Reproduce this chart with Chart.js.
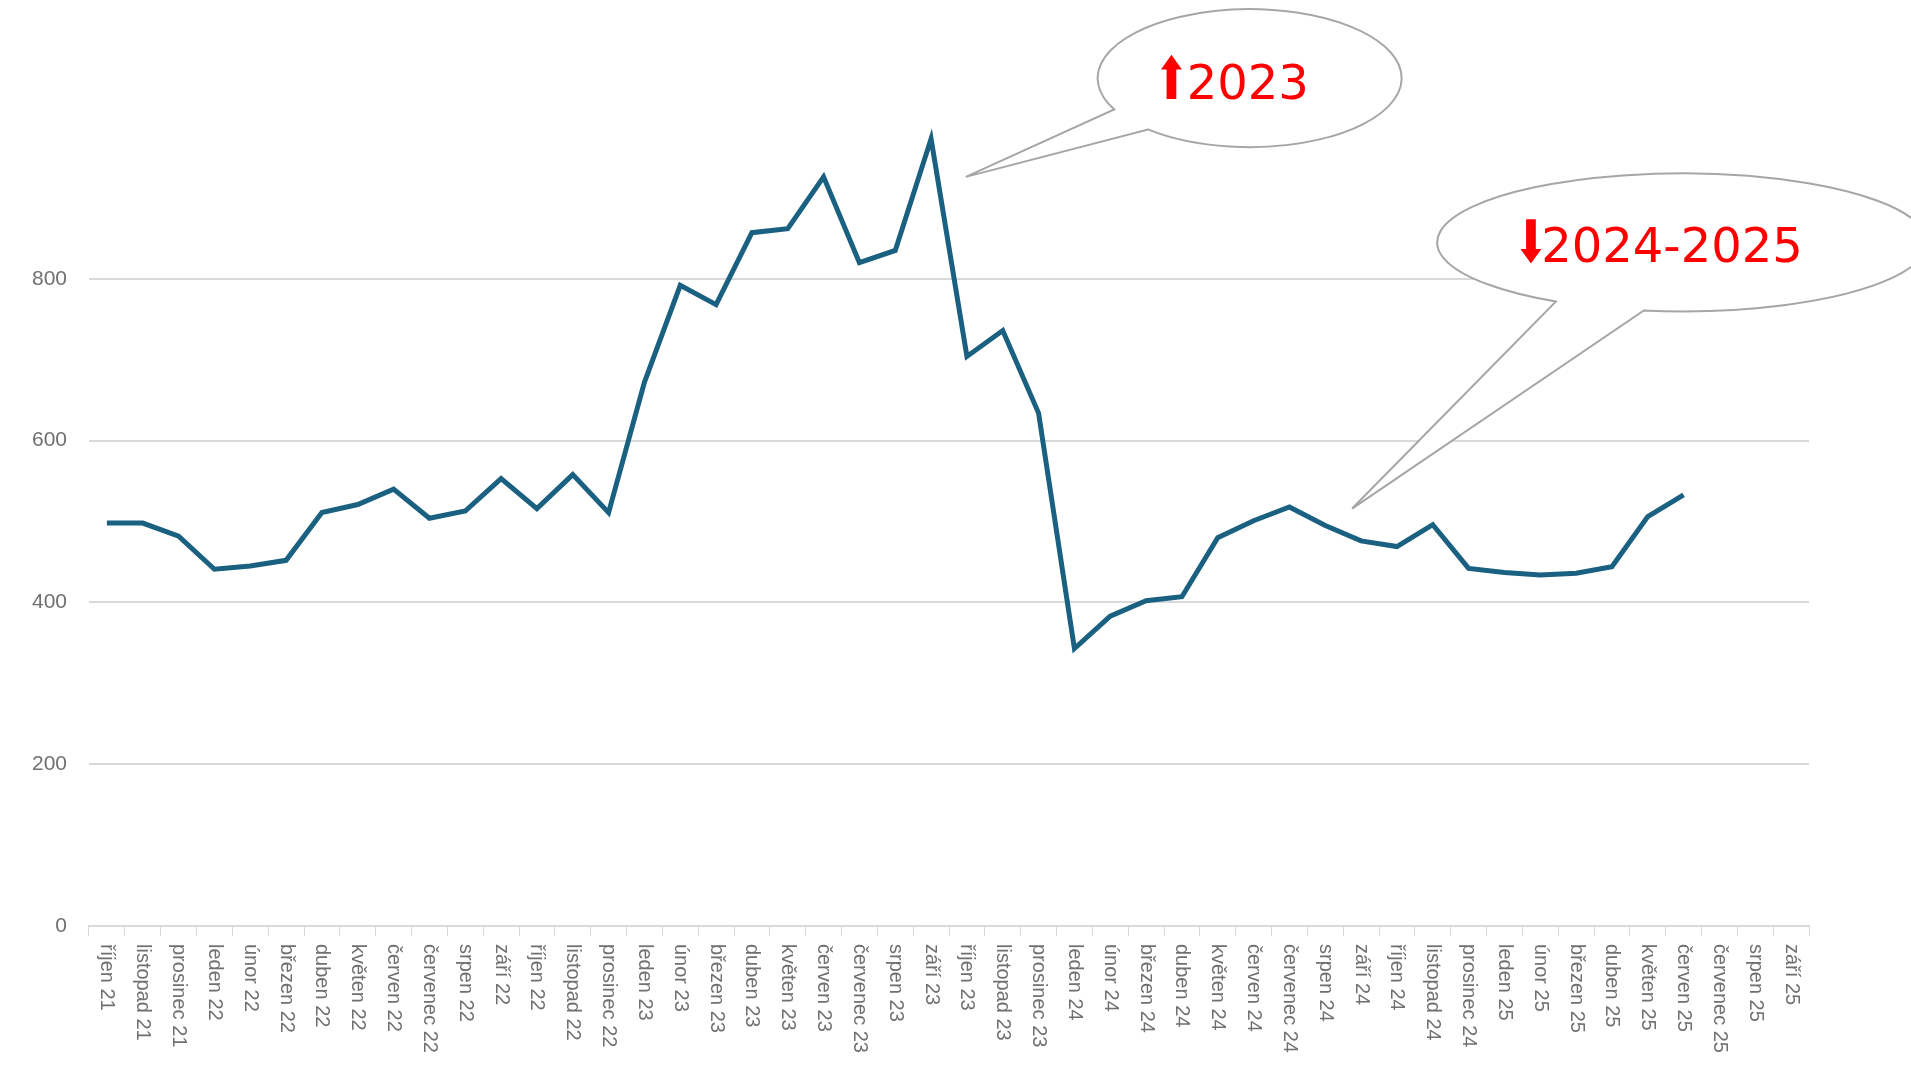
<!DOCTYPE html>
<html>
<head>
<meta charset="utf-8">
<script src="https://cdn.jsdelivr.net/npm/chart.js@4.4.1/dist/chart.umd.min.js"></script>
<style>
  html, body { margin: 0; padding: 0; background: #fff; }
  canvas { display: block; }
</style>
</head>
<body>
<canvas id="myChart" width="1911" height="1066"></canvas>
<script>
const months = ['říjen 21', 'listopad 21', 'prosinec 21',
  'leden 22', 'únor 22', 'březen 22', 'duben 22', 'květen 22', 'červen 22',
  'červenec 22', 'srpen 22', 'září 22', 'říjen 22', 'listopad 22', 'prosinec 22',
  'leden 23', 'únor 23', 'březen 23', 'duben 23', 'květen 23', 'červen 23',
  'červenec 23', 'srpen 23', 'září 23', 'říjen 23', 'listopad 23', 'prosinec 23',
  'leden 24', 'únor 24', 'březen 24', 'duben 24', 'květen 24', 'červen 24',
  'červenec 24', 'srpen 24', 'září 24', 'říjen 24', 'listopad 24', 'prosinec 24',
  'leden 25', 'únor 25', 'březen 25', 'duben 25', 'květen 25', 'červen 25',
  'červenec 25', 'srpen 25', 'září 25'];

const values = [498, 498, 482,
  441, 445, 452, 511, 521, 540, 504, 513, 553, 516, 558, 511,
  672, 792, 768, 857, 862, 926, 820, 835, 973, 704, 736, 634,
  343, 383, 402, 407, 480, 501, 518, 495, 476, 469, 496, 442,
  437, 434, 436, 444, 506, 533, null, null, null];

const yTicks = [0, 200, 400, 600, 800];

// speech bubbles, anchored in data space (category index, value)
const callouts = [
  { arrow: '⬆', text: '2023', tip: [23.97, 926], center: [31.89, 1048], rx: 152, ry: 69, a1: 153, a2: 132,
    ax: -96, tx: -63, dy: 21 },
  { arrow: '⬇', text: '2024-2025', tip: [34.75, 516], center: [43.96, 845], rx: 245, ry: 69, a1: 121, a2: 99,
    ax: -169, tx: -141, dy: 20 }
];

const gridColor = '#d9d9d9';
const labelColor = '#707070';

const rad = d => d * Math.PI / 180;

const extras = {
  id: 'extras',
  afterDraw(chart) {
    const ctx = chart.ctx;
    const xs = chart.scales.x, ys = chart.scales.y;

    // x labels, rotated to read top to bottom
    ctx.save();
    ctx.fillStyle = labelColor;
    ctx.font = '20px "Liberation Sans", Arial, sans-serif';
    ctx.textAlign = 'left';
    ctx.textBaseline = 'middle';
    months.forEach((m, i) => {
      ctx.save();
      ctx.translate(xs.getPixelForValue(i), xs.top + 18);
      ctx.rotate(Math.PI / 2);
      ctx.fillText(m, 0, 0);
      ctx.restore();
    });
    ctx.restore();

    // callouts
    callouts.forEach(c => {
      const px = xs.getPixelForValue(c.tip[0]), py = ys.getPixelForValue(c.tip[1]);
      const cx = xs.getPixelForValue(c.center[0]), cy = ys.getPixelForValue(c.center[1]);
      ctx.save();
      ctx.beginPath();
      ctx.moveTo(px, py);
      ctx.lineTo(cx + c.rx * Math.cos(rad(c.a1)), cy + c.ry * Math.sin(rad(c.a1)));
      ctx.ellipse(cx, cy, c.rx, c.ry, 0, rad(c.a1), rad(c.a2 + 360), false);
      ctx.closePath();
      ctx.fillStyle = '#fff';
      ctx.fill();
      ctx.lineWidth = 2;
      ctx.strokeStyle = '#a6a6a6';
      ctx.stroke();

      ctx.fillStyle = '#ff0000';
      ctx.font = '48px "DejaVu Sans", sans-serif';
      ctx.textAlign = 'left';
      ctx.textBaseline = 'alphabetic';
      ctx.fillText(c.text, cx + c.tx, cy + c.dy);
      // narrow, tall arrow glyph
      ctx.save();
      ctx.translate(cx + c.ax, cy + c.dy);
      ctx.scale(0.88, 1.22);
      ctx.fillText(c.arrow, 0, 0);
      ctx.restore();
      ctx.restore();
    });
  }
};

new Chart(document.getElementById('myChart'), {
  type: 'line',
  data: {
    labels: months,
    datasets: [{
      data: values,
      borderColor: '#1a6080',
      borderWidth: 5,
      borderJoinStyle: 'miter',
      borderCapStyle: 'butt',
      pointRadius: 0,
      tension: 0,
      fill: false
    }]
  },
  options: {
    responsive: false,
    animation: false,
    layout: { padding: { top: 117, right: 102, left: 0, bottom: 0 } },
    plugins: {
      legend: { display: false },
      tooltip: { enabled: false }
    },
    scales: {
      x: {
        offset: true,
        grid: {
          display: true,
          offset: true,
          drawOnChartArea: false,
          drawTicks: true,
          tickLength: 10,
          color: gridColor
        },
        border: { display: true, color: gridColor, width: 2 },
        ticks: { display: false },
        afterFit: s => { s.height = 140; }
      },
      y: {
        min: 0,
        max: 1000,
        afterBuildTicks: s => { s.ticks = yTicks.map(v => ({ value: v })); },
        grid: { color: gridColor, lineWidth: 2, drawTicks: false },
        border: { display: false },
        ticks: {
          padding: 22,
          color: labelColor,
          font: { family: '"Liberation Sans", Arial, sans-serif', size: 21 }
        },
        afterFit: s => { s.width = 89; }
      }
    }
  },
  plugins: [extras]
});
</script>
</body>
</html>
